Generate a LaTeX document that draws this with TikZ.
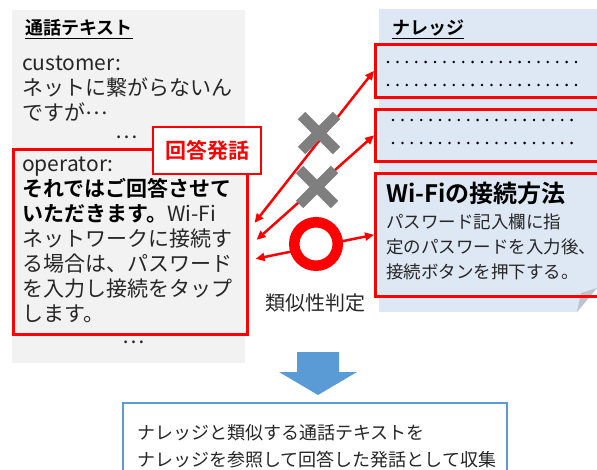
\documentclass[tikz,border=0pt]{standalone}
\usepackage{fontspec}
\setmainfont{Noto Sans CJK JP}[BoldFont={Noto Sans CJK JP Bold}]
\usetikzlibrary{arrows.meta,calc}
\definecolor{panelgray}{HTML}{F2F2F2}
\definecolor{panelblue}{HTML}{DDE8F4}
\definecolor{xred}{HTML}{FF0000}
\definecolor{xgray}{HTML}{7F7F7F}
\definecolor{arrblue}{HTML}{5B9BD5}
\definecolor{foldgray}{HTML}{BCC4CE}
\definecolor{bodytxt}{HTML}{262626}
\newcommand{\midell}{\smash{\raisebox{0.33em}{…}}}
\tikzset{
  redbox/.style={draw=xred, line width=2.6pt, inner sep=0pt, anchor=north west},
  lt/.style={anchor=base west, inner sep=0pt, text=bodytxt, font=\fontsize{21}{25}\selectfont},
  rt/.style={anchor=base west, inner sep=0pt, text=bodytxt, font=\fontsize{17.5}{25}\selectfont},
  bt/.style={anchor=base west, inner sep=0pt, text=bodytxt, font=\fontsize{18}{25}\selectfont},
  ttl/.style={anchor=base west, inner sep=0pt, text=black, font=\fontsize{18}{22}\selectfont\bfseries},
  ell/.style={anchor=base, inner sep=0pt, text=bodytxt, font=\fontsize{21}{25}\selectfont},
  dotrow/.style={line width=2.8pt, line cap=round, dash pattern=on 0pt off 9.4pt, black},
  link/.style={draw=xred, line width=2.5pt, {Triangle[length=9pt,width=8pt]}-{Triangle[length=9pt,width=8pt]}},
  ng/.style={draw=xgray, line width=10.5pt},
}
\begin{document}
\begin{tikzpicture}[x=1pt,y=-1pt]
\useasboundingbox (0,0) rectangle (597,470);
\clip (0,0) rectangle (597,470);

% left panel
\node[fill=panelgray, inner sep=0pt, anchor=north west, minimum width=233pt, minimum height=353pt] (leftpanel) at (12,10) {};
\node[ttl] (lefttitle) at (25,35) {\underline{通話テキスト}};
\node[lt] (c1) at (22,71) {customer:};
\node[lt] (c2) at (22,96) {ネットに繋がらないん};
\node[lt] (c3) at (22,121) {ですが\midell};
\node[ell] (d1) at (127,139) {…};

% operator utterance
\node[redbox, minimum width=234pt, minimum height=185pt] (opbox) at (12,148) {};
\node[lt] (o1) at (22,172) {operator:};
\node[lt, text=black] (o2) at (22,197) {\bfseries それではご回答させて};
\node[lt] (o3) at (22,222) {\textcolor{black}{\bfseries いただきます。}Wi-Fi};
\node[lt] (o4) at (22,247) {ネットワークに接続す};
\node[lt] (o5) at (22,272) {る場合は、パスワード};
\node[lt] (o6) at (22,297) {を入力し接続をタップ};
\node[lt] (o7) at (22,322) {します。};
\node[ell] (d2) at (134,344) {…};

\node[draw=xred, line width=2.6pt, fill=white, minimum width=108pt, minimum height=47pt, inner sep=0pt,
      text=xred, font=\fontsize{21}{25}\selectfont\bfseries] (tag) at (207,150.5) {回答発話};

% knowledge panel
\fill[panelblue] (379,9) -- (610,9) -- (610,288) -- (597,288) -- (577,312) -- (379,312) -- cycle;
\fill[foldgray] (577,312) -- (581,293) -- (597,288) -- cycle;
\node[ttl] (righttitle) at (392,35) {\underline{ナレッジ}};
\node[redbox, minimum width=246pt, minimum height=53pt] (k1) at (374,43) {};
\node[redbox, minimum width=246pt, minimum height=52pt] (k2) at (374,108) {};
\node[redbox, minimum width=246pt, minimum height=123pt] (k3) at (374,172) {};
\draw[dotrow] (388,62) -- (577,62);
\draw[dotrow] (388,85) -- (577,85);
\draw[dotrow] (393,120) -- (573,120);
\draw[dotrow] (393,143) -- (573,143);
\node[anchor=base west, inner sep=0pt, font=\fontsize{24}{26}\selectfont\bfseries] (kt) at (386,203) {Wi-Fiの接続方法};
\node[rt] (k31) at (386,229) {パスワード記入欄に指};
\node[rt] (k32) at (386,254) {定のパスワードを入力後、};
\node[rt] (k33) at (386,279) {接続ボタンを押下する。};

% similarity links
\coordinate (l1) at ($(opbox.east)+(6,-19)$);
\coordinate (l2) at ($(opbox.east)+(8,-2)$);
\coordinate (l3) at ($(opbox.east)+(7,17)$);
\draw[link] (l1) -- (k1.west);
\draw[link] (l2) -- (k2.west);
\draw[link] (l3) -- (k3.west);
\node[circle, draw=xred, fill=white, line width=10.5pt, minimum size=43.5pt, inner sep=0pt] (ok) at (316,244) {};
\coordinate (x1) at (319,133);
\coordinate (x2) at (317,187);
\draw[ng] ($(x1)+(-17.5,-17.5)$) -- ($(x1)+(17.5,17.5)$);
\draw[ng] ($(x1)+(-17.5,17.5)$) -- ($(x1)+(17.5,-17.5)$);
\draw[ng] ($(x2)+(-17.5,-17.5)$) -- ($(x2)+(17.5,17.5)$);
\draw[ng] ($(x2)+(-17.5,17.5)$) -- ($(x2)+(17.5,-17.5)$);
\node[anchor=base, inner sep=0pt, text=bodytxt, font=\fontsize{20}{24}\selectfont] (judge) at (315,311) {類似性判定};

% result
\fill[arrblue] (297,352) -- (339,352) -- (339,372) -- (357,372) -- (318,395) -- (279,372) -- (297,372) -- cycle;
\node[draw=arrblue, line width=2pt, fill=white, anchor=north west, minimum width=384pt, minimum height=90pt, inner sep=0pt] (result) at (122,402) {};
\node[bt] (r1) at (137,439) {ナレッジと類似する通話テキストを};
\node[bt] (r2) at (137,466) {ナレッジを参照して回答した発話として収集};
\end{tikzpicture}
\end{document}
